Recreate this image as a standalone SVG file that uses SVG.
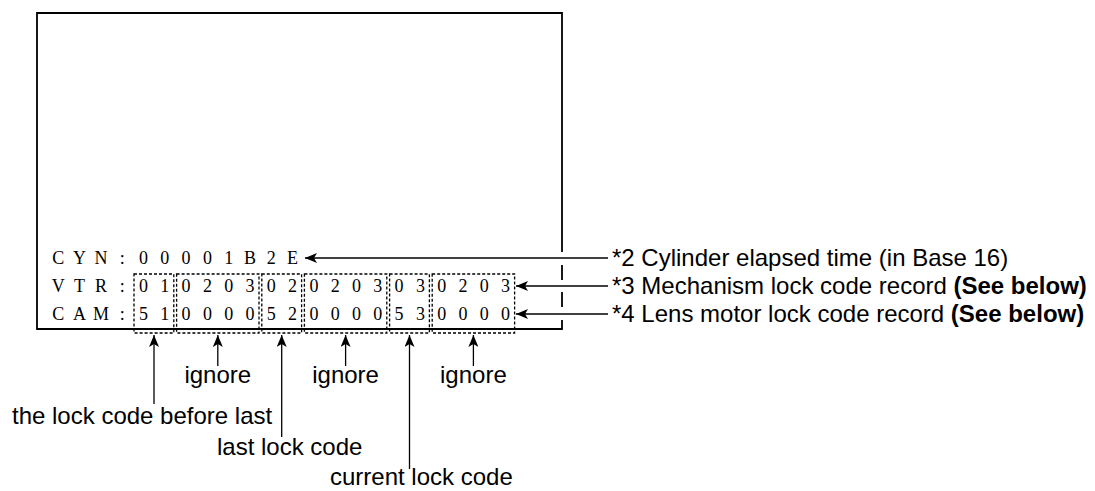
<svg xmlns="http://www.w3.org/2000/svg" width="1095" height="491" viewBox="0 0 1095 491">
<style>
.mono{font-family:"Liberation Serif",serif;font-size:18px;fill:#000;text-anchor:middle}
.lbl{font-family:"Liberation Sans",Arial,sans-serif;font-size:24px;fill:#000}
.b{font-weight:bold}
.box{fill:none;stroke:#000;stroke-width:1.3;stroke-dasharray:3 2}
.con{fill:none;stroke:#000;stroke-width:1.3}
.frame{fill:none;stroke:#000;stroke-width:1.8}
</style>
<defs>
<marker id="ah" viewBox="0 0 12 10" refX="12" refY="5" markerWidth="12" markerHeight="10" markerUnits="userSpaceOnUse" orient="auto">
<path d="M12,5 L0,0 L3,5 L0,10 Z" fill="#000"/>
</marker>
</defs>
<rect width="1095" height="491" fill="#fff"/>
<g id="screen">
<path class="frame" d="M562,320 V329 H37 V13 H562 V252 M562,265 V280 M562,292 V307"/>
</g>
<g id="row-cyn">
<text class="mono" x="58.3 79.6 100.9 122.2 143.5 164.8 186.1 207.4 228.7 250 271.3 292.6" y="264">CYN:00001B2E</text>
</g>
<g id="row-vtr">
<text class="mono" x="58.3 79.6 100.9 122.2 143.5 164.8 186.1 207.4 228.7 250 271.3 292.6 313.9 335.2 356.5 377.8 399.1 420.4 441.7 463 484.3 505.6" y="292">VTR:010203020203030203</text>
</g>
<g id="row-cam">
<text class="mono" x="58.3 79.6 100.9 122.2 143.5 164.8 186.1 207.4 228.7 250 271.3 292.6 313.9 335.2 356.5 377.8 399.1 420.4 441.7 463 484.3 505.6" y="320">CAM:510000520000530000</text>
</g>
<g id="boxes">
<rect id="box1" class="box" x="134" y="274" width="39.8" height="59"/>
<rect id="box2" class="box" x="176.6" y="274" width="82.4" height="59"/>
<rect id="box3" class="box" x="261.8" y="274" width="39.8" height="59"/>
<rect id="box4" class="box" x="304.4" y="274" width="82.4" height="59"/>
<rect id="box5" class="box" x="389.6" y="274" width="39.8" height="59"/>
<rect id="box6" class="box" x="432.2" y="274" width="82.4" height="59"/>
</g>
<g id="label-cyn"><text class="lbl" x="612" y="266">*2 Cylinder elapsed time (in Base 16)</text></g>
<g id="label-vtr"><text class="lbl" x="612" y="294">*3 Mechanism lock code record <tspan class="b">(See below)</tspan></text></g>
<g id="label-cam"><text class="lbl" x="612" y="322">*4 Lens motor lock code record <tspan class="b">(See below)</tspan></text></g>
<g id="label-before-last"><text class="lbl" x="12" y="424">the lock code before last</text></g>
<g id="label-ignore1"><text class="lbl" x="217.8" y="383" text-anchor="middle">ignore</text></g>
<g id="label-last"><text class="lbl" x="217" y="455">last lock code</text></g>
<g id="label-ignore2"><text class="lbl" x="345.6" y="383" text-anchor="middle">ignore</text></g>
<g id="label-current"><text class="lbl" x="330" y="485">current lock code</text></g>
<g id="label-ignore3"><text class="lbl" x="473.4" y="383" text-anchor="middle">ignore</text></g>
<g id="connectors">
<line class="con" x1="608" y1="258" x2="305" y2="258" marker-end="url(#ah)"/>
<line class="con" x1="608" y1="286" x2="516" y2="286" marker-end="url(#ah)"/>
<line class="con" x1="608" y1="314" x2="516" y2="314" marker-end="url(#ah)"/>
<line class="con" x1="154" y1="404" x2="154" y2="335" marker-end="url(#ah)"/>
<line class="con" x1="217.8" y1="366" x2="217.8" y2="335" marker-end="url(#ah)"/>
<line class="con" x1="281.7" y1="437" x2="281.7" y2="335" marker-end="url(#ah)"/>
<line class="con" x1="345.6" y1="366" x2="345.6" y2="335" marker-end="url(#ah)"/>
<line class="con" x1="409.5" y1="469" x2="409.5" y2="335" marker-end="url(#ah)"/>
<line class="con" x1="473.4" y1="366" x2="473.4" y2="335" marker-end="url(#ah)"/>
</g>
</svg>
